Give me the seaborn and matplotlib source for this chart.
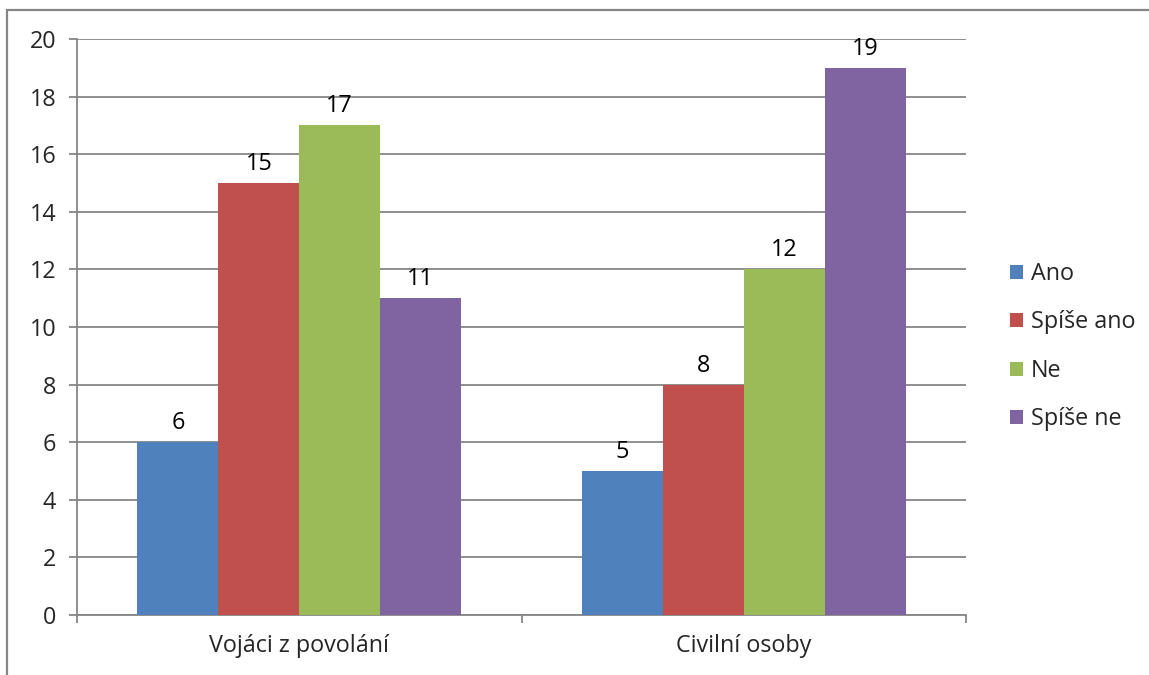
import matplotlib
matplotlib.use("Agg")
import matplotlib.pyplot as plt
import seaborn as sns
import pandas as pd
from matplotlib.patches import Rectangle

groups = ["Vojáci z povolání", "Civilní osoby"]
answers = ["Ano", "Spíše ano", "Ne", "Spíše ne"]
vals_vojaci = [6, 15, 17, 11]
vals_civilni = [5, 8, 12, 19]
yticks = [0, 2, 4, 6, 8, 10, 12, 14, 16, 18, 20]
colors = ["#4F81BD", "#C0504D", "#9BBB59", "#8064A2"]

rows = []
for g, vals in zip(groups, [vals_vojaci, vals_civilni]):
    for a, v in zip(answers, vals):
        rows.append({"group": g, "answer": a, "value": v})
df = pd.DataFrame(rows)

sns.set_theme(style="white")
plt.rcParams["font.family"] = ["Open Sans", "DejaVu Sans"]
FS = 16.8

fig = plt.figure(figsize=(11.49, 6.75), dpi=100)
ax = fig.add_axes([77/1149, 1-615/675, (966-77)/1149, (615-39)/675])

sns.barplot(data=df, x="group", y="value", hue="answer", order=groups,
            hue_order=answers, palette=colors, width=0.728, gap=0,
            saturation=1, ax=ax, errorbar=None, linewidth=0, zorder=3)

for c in ax.containers:
    ax.bar_label(c, padding=5, fontsize=FS, color="black")

grid_c = "#868686"
ax.set_ylim(0, 20)
ax.set_xlim(-0.5, 1.5)
ax.set_yticks(yticks)
ax.set_yticklabels([str(t) for t in yticks], fontsize=FS)
ax.yaxis.grid(True, color=grid_c, linewidth=1.3, zorder=0)
ax.set_axisbelow(True)
ax.tick_params(axis="y", which="major", length=6, width=1.3, color=grid_c,
               direction="out", left=True, pad=9)
ax.set_xticks([0, 1])
ax.set_xticklabels(groups, fontsize=FS)
ax.set_xticks([-0.5, 0.5, 1.5], minor=True)
ax.tick_params(axis="x", which="major", length=0, pad=14)
ax.tick_params(axis="x", which="minor", length=6, width=1.3, color=grid_c,
               direction="out", bottom=True)
ax.set_xlabel("")
ax.set_ylabel("")
for s in ["top", "right"]:
    ax.spines[s].set_visible(False)
for s in ["left", "bottom"]:
    ax.spines[s].set_color(grid_c)
    ax.spines[s].set_linewidth(1.3)

leg = ax.legend(loc="center left", bbox_to_anchor=(1.026, 0.466), frameon=False,
                fontsize=FS, handlelength=0.55, handleheight=0.55,
                handletextpad=0.35, labelspacing=1.05)

fig.patches.append(Rectangle((7/1149, -0.1), 1.2, 1-10/675 + 0.1,
                             transform=fig.transFigure, fill=False,
                             edgecolor=grid_c, linewidth=1.6))

fig.savefig("out.png", dpi=100)
